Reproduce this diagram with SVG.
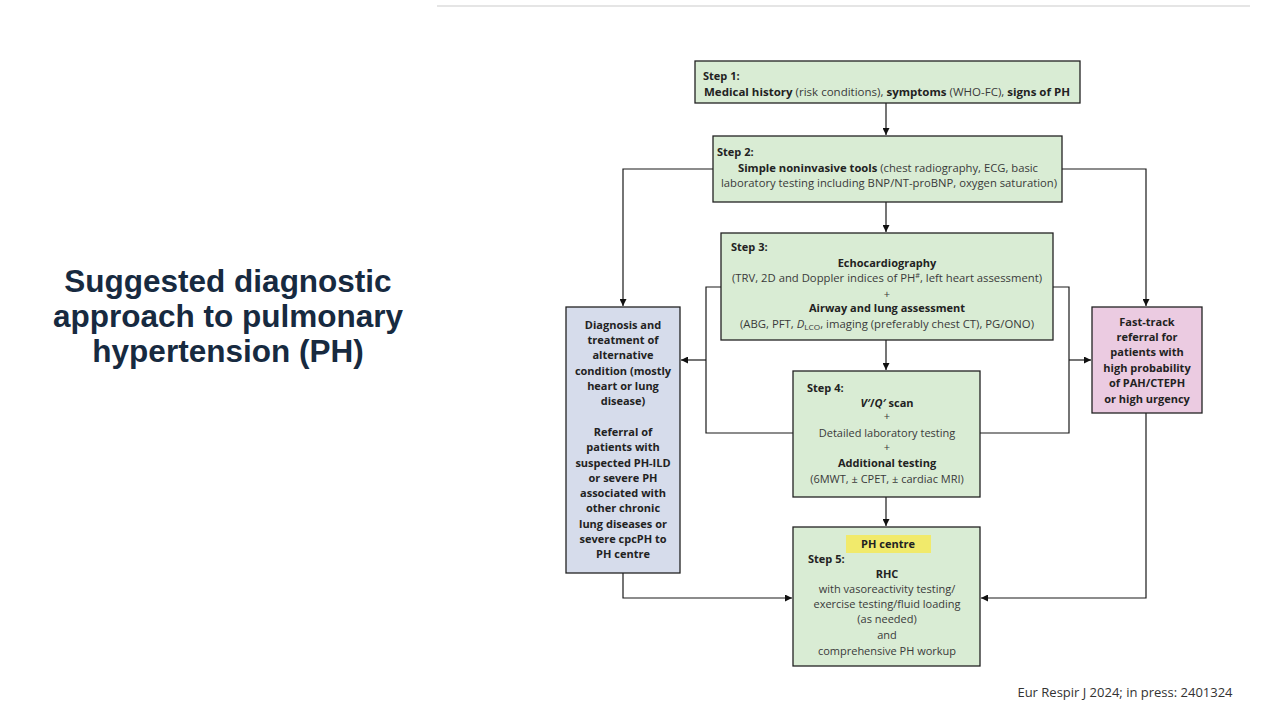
<svg xmlns="http://www.w3.org/2000/svg" width="1280" height="720" viewBox="0 0 1280 720">
<defs>
<marker id="ah" viewBox="0 0 10 10" refX="10" refY="5" markerWidth="7" markerHeight="7" markerUnits="userSpaceOnUse" orient="auto">
<path d="M0,0 L10,5 L0,10 z" fill="#111"/>
</marker>
<style>
.box{stroke:#222;stroke-width:1.3}
.g{fill:#d9ecd4}
.b{fill:#d6dceb}
.p{fill:#ebcbe1}
.t{font-family:"Open Sans","Noto Sans",sans-serif;font-size:11px;fill:#3a3a3a}
.c{text-anchor:middle}
.bo{font-weight:bold;fill:#222}
.con{fill:none;stroke:#1a1a1a;stroke-width:1.2}
.title{font-family:"Liberation Sans",Arial,sans-serif;font-size:31.5px;font-weight:bold;fill:#172a40;text-anchor:middle}
</style>
</defs>
<rect width="1280" height="720" fill="#fff"/>
<line x1="437" y1="6" x2="1250" y2="6" stroke="#dcdcdc" stroke-width="1.5"/>
<g id="title">
<text class="title" x="228" y="292">Suggested diagnostic</text>
<text class="title" x="228" y="327">approach to pulmonary</text>
<text class="title" x="228" y="362">hypertension (PH)</text>
</g>
<g id="connectors">
<path class="con" d="M886,103 V135" marker-end="url(#ah)"/>
<path class="con" d="M886,202 V232" marker-end="url(#ah)"/>
<path class="con" d="M886,340 V370" marker-end="url(#ah)"/>
<path class="con" d="M886,497 V526" marker-end="url(#ah)"/>
<path class="con" d="M713,169 H623 V306" marker-end="url(#ah)"/>
<path class="con" d="M1062,169 H1146 V306" marker-end="url(#ah)"/>
<path class="con" d="M721,287 H706 V433 H793"/>
<path class="con" d="M706,360 H681" marker-end="url(#ah)"/>
<path class="con" d="M1053,287 H1069 V433 H980"/>
<path class="con" d="M1069,360 H1091" marker-end="url(#ah)"/>
<path class="con" d="M623,573 V598 H792" marker-end="url(#ah)"/>
<path class="con" d="M1146,413 V598 H981" marker-end="url(#ah)"/>
</g>
<g id="step1">
<rect class="box g" x="695" y="61" width="385" height="42"/>
<text class="t bo" x="703" y="80">Step 1:</text>
<text class="t c" x="887" y="96" textLength="366" lengthAdjust="spacingAndGlyphs"><tspan class="bo">Medical history</tspan> (risk conditions), <tspan class="bo">symptoms</tspan> (WHO-FC), <tspan class="bo">signs of PH</tspan></text>
</g>
<g id="step2">
<rect class="box g" x="713" y="136" width="349" height="66"/>
<text class="t bo" x="717" y="156">Step 2:</text>
<text class="t c" x="888" y="172" textLength="300" lengthAdjust="spacingAndGlyphs"><tspan class="bo">Simple noninvasive tools</tspan> (chest radiography, ECG, basic</text>
<text class="t c" x="889" y="187" textLength="336" lengthAdjust="spacingAndGlyphs">laboratory testing including BNP/NT-proBNP, oxygen saturation)</text>
</g>
<g id="step3">
<rect class="box g" x="721" y="233" width="332" height="107"/>
<text class="t bo" x="731" y="251">Step 3:</text>
<text class="t c bo" x="887" y="267">Echocardiography</text>
<text class="t c" x="887" y="282" textLength="310" lengthAdjust="spacingAndGlyphs">(TRV, 2D and Doppler indices of PH<tspan font-size="7" dy="-4">#</tspan><tspan dy="4">, left heart assessment)</tspan></text>
<text class="t c" x="887" y="298" font-size="9">+</text>
<text class="t c bo" x="887" y="312">Airway and lung assessment</text>
<text class="t c" x="887" y="328" textLength="294" lengthAdjust="spacingAndGlyphs">(ABG, PFT, <tspan font-style="italic">D</tspan><tspan font-size="8" dy="2">LCO</tspan><tspan dy="-2">, imaging (preferably chest CT), PG/ONO)</tspan></text>
</g>
<g id="step4">
<rect class="box g" x="793" y="371" width="187" height="126"/>
<text class="t bo" x="807" y="392">Step 4:</text>
<text class="t c bo" x="887" y="407"><tspan font-style="italic">V′</tspan>/<tspan font-style="italic">Q′</tspan> scan</text>
<text class="t c" x="887" y="420" font-size="9">+</text>
<text class="t c" x="887" y="437">Detailed laboratory testing</text>
<text class="t c" x="887" y="451" font-size="9">+</text>
<text class="t c bo" x="887" y="467">Additional testing</text>
<text class="t c" x="887" y="483">(6MWT, ± CPET, ± cardiac MRI)</text>
</g>
<g id="step5">
<rect class="box g" x="793" y="527" width="187" height="139"/>
<rect x="846" y="535" width="85" height="18" fill="#f1ea6b"/>
<text class="t c bo" x="888" y="548">PH centre</text>
<text class="t bo" x="808" y="563">Step 5:</text>
<text class="t c bo" x="887" y="578">RHC</text>
<text class="t c" x="887" y="593">with vasoreactivity testing/</text>
<text class="t c" x="887" y="608">exercise testing/fluid loading</text>
<text class="t c" x="887" y="623">(as needed)</text>
<text class="t c" x="887" y="639">and</text>
<text class="t c" x="887" y="655">comprehensive PH workup</text>
</g>
<g id="alternative">
<rect class="box b" x="566" y="307" width="114" height="266"/>
<text class="t c bo" x="623" y="329">Diagnosis and</text>
<text class="t c bo" x="623" y="344">treatment of</text>
<text class="t c bo" x="623" y="359">alternative</text>
<text class="t c bo" x="623" y="375">condition (mostly</text>
<text class="t c bo" x="623" y="390">heart or lung</text>
<text class="t c bo" x="623" y="405">disease)</text>
<text class="t c bo" x="623" y="436">Referral of</text>
<text class="t c bo" x="623" y="451">patients with</text>
<text class="t c bo" x="623" y="467">suspected PH-ILD</text>
<text class="t c bo" x="623" y="482">or severe PH</text>
<text class="t c bo" x="623" y="497">associated with</text>
<text class="t c bo" x="623" y="512">other chronic</text>
<text class="t c bo" x="623" y="528">lung diseases or</text>
<text class="t c bo" x="623" y="543">severe cpcPH to</text>
<text class="t c bo" x="623" y="558">PH centre</text>
</g>
<g id="fasttrack">
<rect class="box p" x="1092" y="307" width="110" height="106"/>
<text class="t c bo" x="1147" y="326">Fast-track</text>
<text class="t c bo" x="1147" y="341">referral for</text>
<text class="t c bo" x="1147" y="356">patients with</text>
<text class="t c bo" x="1147" y="372">high probability</text>
<text class="t c bo" x="1147" y="387">of PAH/CTEPH</text>
<text class="t c bo" x="1147" y="403">or high urgency</text>
</g>
<text x="1125" y="697" font-family="Open Sans, Noto Sans, sans-serif" font-size="13" fill="#333" text-anchor="middle">Eur Respir J 2024; in press: 2401324</text>
</svg>
